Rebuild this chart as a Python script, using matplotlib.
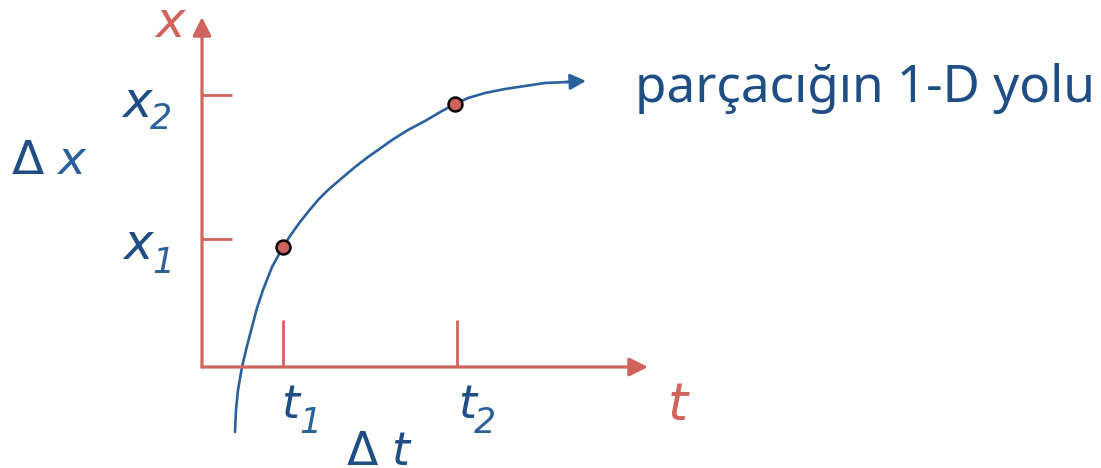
import numpy as np
import matplotlib
matplotlib.use('Agg')
import matplotlib.pyplot as plt

# figure is laid out in pixel units (x right, y down)
W, H = 1101, 468

red = '#d0645c'
blue = '#2b619a'
dblue = '#1f4e85'

# axes of the sketch
origin = (202, 367)
ytip = (202, 17)
xtip = (648, 367)

# tick marks
xtick_pos = [283, 457]
ytick_pos = [95, 239]

# path of the particle
path_t = [235, 236, 238, 242, 247, 252, 257, 263, 272, 283, 290, 300, 308, 318,
          328, 342, 355, 368, 378, 392, 408, 425, 442, 455, 468, 485, 505,
          525, 545, 568]
path_x = [432, 410, 390, 367, 346, 327, 308, 290, 267, 247, 236, 222, 212, 200,
          190, 178, 167, 157, 150, 140, 130, 121, 111, 104, 98, 93, 89,
          86, 83, 82]
arrow_tip = (586, 81)

# the two marked positions
pts_t = [283, 455]
pts_x = [247, 104]

fig = plt.figure(figsize=(W / 100, H / 100), dpi=100)
ax = fig.add_axes([0, 0, 1, 1])
ax.set_xlim(0, W)
ax.set_ylim(H, 0)
ax.axis('off')

# axes with arrow heads
ax.annotate('', xy=ytip, xytext=origin,
            arrowprops=dict(arrowstyle='-|>', color=red, lw=2.3,
                            mutation_scale=28, shrinkA=0, shrinkB=0))
ax.annotate('', xy=xtip, xytext=(origin[0], origin[1]),
            arrowprops=dict(arrowstyle='-|>', color=red, lw=2.3,
                            mutation_scale=28, shrinkA=0, shrinkB=0))

for xt in xtick_pos:
    ax.plot([xt, xt], [320, 367], color=red, lw=2.0, solid_capstyle='butt')
for yt in ytick_pos:
    ax.plot([202, 232], [yt, yt], color=red, lw=2.0, solid_capstyle='butt')

# curve
ax.plot(path_t, path_x, color=blue, lw=1.9, solid_capstyle='round',
        solid_joinstyle='round')
ax.annotate('', xy=arrow_tip, xytext=(path_t[-1] - 2, path_x[-1]),
            arrowprops=dict(arrowstyle='-|>', color=blue, lw=1.9,
                            mutation_scale=24, shrinkA=0, shrinkB=0))

ax.plot(pts_t, pts_x, 'o', ms=10, mfc=red, mec='black', mew=1.8, zorder=5)

# labels
it = dict(family='DejaVu Sans', style='italic', ha='left', va='baseline')
ax.text(155, 37, 'x', color=red, fontsize=36, **it)
ax.text(668, 420, 't', color=red, fontsize=37, **it)

ax.text(122, 117, 'x', color=dblue, fontsize=36, **it)
ax.text(150, 129, '2', color=blue, fontsize=25, **it)
ax.text(123, 259, 'x', color=dblue, fontsize=36, **it)
ax.text(152, 273, '1', color=blue, fontsize=25, **it)

ax.text(12, 174, '\u0394', color=dblue, fontsize=34, family='DejaVu Sans',
        ha='left', va='baseline')
ax.text(57, 174, 'x', color=blue, fontsize=34, **it)

ax.text(281, 418, 't', color=dblue, fontsize=33, **it)
ax.text(299, 433, '1', color=blue, fontsize=25, **it)
ax.text(458, 418, 't', color=dblue, fontsize=33, **it)
ax.text(474, 433, '2', color=blue, fontsize=25, **it)

ax.text(347, 465, '\u0394', color=dblue, fontsize=33, family='DejaVu Sans',
        ha='left', va='baseline')
ax.text(391, 465, 't', color=dblue, fontsize=33, **it)

# caption, size fitted to the width it has in the picture
cap = ax.text(635, 102, 'parçacığın 1-D yolu', color=dblue, fontsize=36,
              family='Noto Sans', ha='left', va='baseline')
fig.canvas.draw()
w = cap.get_window_extent().width
cap.set_fontsize(36 * 460 / w)

fig.savefig('out.png', dpi=100)
